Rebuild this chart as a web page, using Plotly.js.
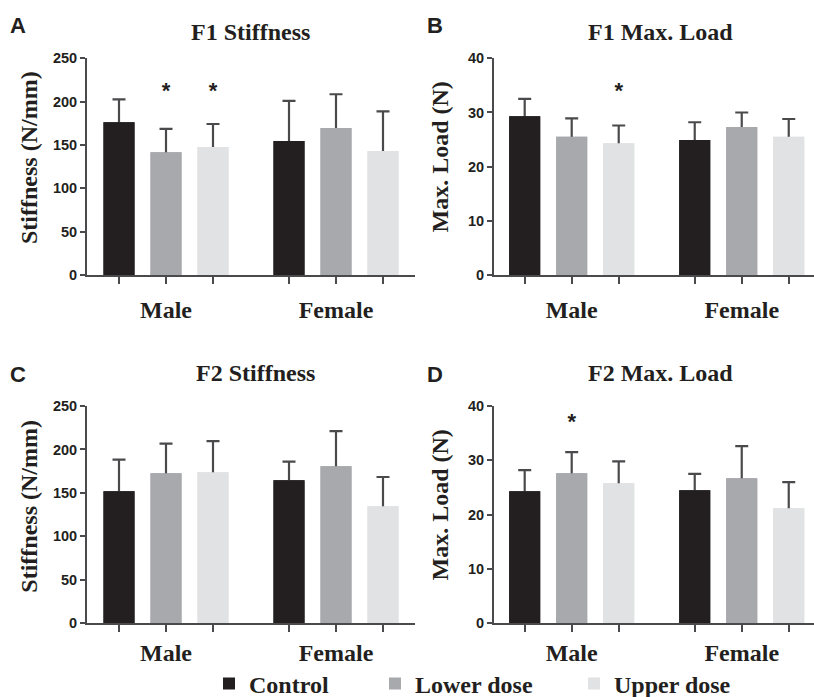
<!DOCTYPE html>
<html><head><meta charset="utf-8">
<script src="https://cdn.plot.ly/plotly-3.0.1.min.js"></script>
<style>html,body{margin:0;padding:0;background:#fff}#chart{width:814px;height:697px}</style>
</head><body><div id="chart"></div>
<script>
// ---------------- data ----------------
const categories = ['Male', 'Female'];
const seriesNames = ['Control', 'Lower dose', 'Upper dose'];

// rows: Control, Lower dose, Upper dose ; columns: Male, Female
const f1StiffMeans = [[176.2, 154.6], [141.5, 169.6], [147.7, 143.1]];
const f1StiffSD    = [[26.5, 46.2], [27.0, 38.9], [26.5, 45.7]];
const f1LoadMeans  = [[29.3, 24.9], [25.5, 27.3], [24.3, 25.5]];
const f1LoadSD     = [[3.2, 3.3], [3.4, 2.7], [3.3, 3.3]];
const f2StiffMeans = [[151.8, 164.5], [172.5, 180.6], [173.7, 134.6]];
const f2StiffSD    = [[36.5, 21.5], [34.2, 40.6], [36.0, 33.7]];
const f2LoadMeans  = [[24.3, 24.5], [27.6, 26.7], [25.8, 21.2]];
const f2LoadSD     = [[3.9, 3.0], [3.9, 5.9], [4.0, 4.8]];

// significance stars: [series index, category index, value level]
const f1StiffStars = [[1, 0, 210.8], [2, 0, 210.8]];
const f1LoadStars  = [[2, 0, 33.7]];
const f2StiffStars = [];
const f2LoadStars  = [[1, 0, 36.8]];

const yTicksStiff = [0, 50, 100, 150, 200, 250];
const yTicksLoad  = [0, 10, 20, 30, 40];

// ---------------- styling / layout ----------------
const W = 814, H = 697;
const colors = ['#231f20', '#a7a9ac', '#e1e2e3'];
const axisColor = '#4a4a4c';
const textColor = '#231f20';
const serif = 'Liberation Serif, Times New Roman, serif';
const sans = 'Liberation Sans, Arial, sans-serif';
const BARGAP = 0.1706, BARGROUPGAP = 0.34;
const slot = (1 - BARGAP) / 3;

const panels = [
  {means: f1StiffMeans, sds: f1StiffSD, stars: f1StiffStars, yticks: yTicksStiff, title: 'F1 Stiffness', ytitle: 'Stiffness (N/mm)', letter: 'A',
   xpx: [87, 415], ypx: [58.3, 275], xr: [-0.4647, 1.4647], letterPos: [18, 25], titlePos: [250, 32], ytitlePos: [29, 158], standoff: 5},
  {means: f1LoadMeans, sds: f1LoadSD, stars: f1LoadStars, yticks: yTicksLoad, title: 'F1 Max. Load', ytitle: 'Max. Load (N)', letter: 'B',
   xpx: [494, 814], ypx: [58.3, 275], xr: [-0.457, 1.425], letterPos: [434.5, 25], titlePos: [660, 32], ytitlePos: [439, 157.5], standoff: 5},
  {means: f2StiffMeans, sds: f2StiffSD, stars: f2StiffStars, yticks: yTicksStiff, title: 'F2 Stiffness', ytitle: 'Stiffness (N/mm)', letter: 'C',
   xpx: [87, 415], ypx: [406, 623.3], xr: [-0.4647, 1.4647], letterPos: [18, 375], titlePos: [255, 373], ytitlePos: [29, 506.7], standoff: 0},
  {means: f2LoadMeans, sds: f2LoadSD, stars: f2LoadStars, yticks: yTicksLoad, title: 'F2 Max. Load', ytitle: 'Max. Load (N)', letter: 'D',
   xpx: [494, 814], ypx: [406, 623.3], xr: [-0.457, 1.425], letterPos: [434.5, 375], titlePos: [660, 373], ytitlePos: [439, 505.5], standoff: 0}
];

const catIdx = categories.map((c, i) => i);
const traces = [];
const layout = {
  width: W, height: H, autosize: false,
  margin: {l: 0, r: 0, t: 0, b: 0, pad: 0, autoexpand: false},
  paper_bgcolor: '#ffffff', plot_bgcolor: 'rgba(0,0,0,0)',
  barmode: 'group', bargap: BARGAP, bargroupgap: BARGROUPGAP,
  showlegend: true,
  annotations: [],
  font: {family: serif, color: textColor}
};

const px2x = p => p / W;
const px2y = p => 1 - p / H;

panels.forEach((p, k) => {
  const n = k + 1, o = k + 5;
  const xs = n === 1 ? '' : String(n);
  const xo = String(o);
  const yr = [p.yticks[0], p.yticks[p.yticks.length - 1]];
  const minorVals = [];
  catIdx.forEach(i => [0, 1, 2].forEach(s => minorVals.push(i + (s - 1) * slot)));

  layout['xaxis' + xs] = {
    domain: [px2x(p.xpx[0]), Math.min(1, px2x(p.xpx[1]))], range: p.xr, anchor: 'y' + xs,
    tickmode: 'array', tickvals: catIdx, ticktext: categories,
    ticks: 'outside', ticklen: 7, tickwidth: 2, tickcolor: axisColor,
    showline: true, linewidth: 2, linecolor: axisColor,
    showgrid: false, zeroline: false, fixedrange: true,
    tickfont: {family: serif, size: 24, weight: 700, color: textColor},
    ticklabelstandoff: p.standoff,
    minor: {tickmode: 'array', tickvals: minorVals, ticks: 'outside', ticklen: 7, tickwidth: 2, tickcolor: axisColor, showgrid: false}
  };
  layout['yaxis' + xs] = {
    domain: [px2y(p.ypx[1]), px2y(p.ypx[0])], range: yr, anchor: 'x' + xs,
    tickmode: 'array', tickvals: p.yticks,
    ticks: 'outside', ticklen: 5, tickwidth: 2, tickcolor: axisColor,
    showline: true, linewidth: 2, linecolor: axisColor,
    showgrid: false, zeroline: false, fixedrange: true,
    tickfont: {family: sans, size: 14.5, weight: 700, color: textColor}
  };
  layout['xaxis' + xo] = {overlaying: 'x' + xs, range: p.xr, anchor: 'y' + xo, visible: false, fixedrange: true};
  layout['yaxis' + xo] = {overlaying: 'y' + xs, range: yr, anchor: 'x' + xo, visible: false, fixedrange: true};

  seriesNames.forEach((name, s) => {
    // bars with SD error bars (lower half hidden behind overlay bars)
    traces.push({
      type: 'bar', name: name, x: catIdx, y: p.means[s], xaxis: 'x' + xs, yaxis: 'y' + xs,
      marker: {color: colors[s], line: {width: 0}},
      error_y: {type: 'data', array: p.sds[s], arrayminus: p.sds[s], symmetric: false, color: axisColor, thickness: 2.2, width: 6.5},
      showlegend: false, hoverinfo: 'skip'
    });
  });
  seriesNames.forEach((name, s) => {
    traces.push({
      type: 'bar', name: name, x: catIdx, y: p.means[s], xaxis: 'x' + xo, yaxis: 'y' + xo,
      marker: {color: colors[s], line: {width: 0}},
      showlegend: k === 0, legend: s === 0 ? 'legend' : ('legend' + (s + 1)),
      hoverinfo: 'skip'
    });
  });
  if (p.stars.length) {
    traces.push({
      type: 'scatter', mode: 'text', xaxis: 'x' + xo, yaxis: 'y' + xo,
      x: p.stars.map(st => catIdx[st[1]] + (st[0] - 1) * slot),
      y: p.stars.map(st => st[2]),
      text: p.stars.map(() => '*'),
      textposition: 'middle center',
      textfont: {family: sans, size: 22, weight: 700, color: textColor},
      showlegend: false, hoverinfo: 'skip', cliponaxis: false
    });
  }

  layout.annotations.push(
    {text: p.letter, xref: 'paper', yref: 'paper', x: px2x(p.letterPos[0]), y: px2y(p.letterPos[1]), xanchor: 'center', yanchor: 'middle', showarrow: false,
     font: {family: sans, size: 22, weight: 700, color: textColor}},
    {text: p.title, xref: 'paper', yref: 'paper', x: px2x(p.titlePos[0]), y: px2y(p.titlePos[1]), xanchor: 'center', yanchor: 'middle', showarrow: false,
     font: {family: serif, size: 24, weight: 700, color: textColor}},
    {text: p.ytitle, xref: 'paper', yref: 'paper', x: px2x(p.ytitlePos[0]), y: px2y(p.ytitlePos[1]), xanchor: 'center', yanchor: 'middle', showarrow: false,
     textangle: -90, font: {family: serif, size: 24, weight: 700, color: textColor}}
  );
});

const legendFont = {family: serif, size: 24, weight: 700, color: textColor};
const legendBase = {orientation: 'h', xanchor: 'left', yanchor: 'middle', bgcolor: 'rgba(0,0,0,0)', borderwidth: 0, font: legendFont};
layout.legend  = Object.assign({}, legendBase, {x: px2x(209), y: px2y(684)});
layout.legend2 = Object.assign({}, legendBase, {x: px2x(375), y: px2y(684)});
layout.legend3 = Object.assign({}, legendBase, {x: px2x(574), y: px2y(684)});

Plotly.newPlot('chart', traces, layout, {staticPlot: true, displayModeBar: false});
</script>
</body></html>
